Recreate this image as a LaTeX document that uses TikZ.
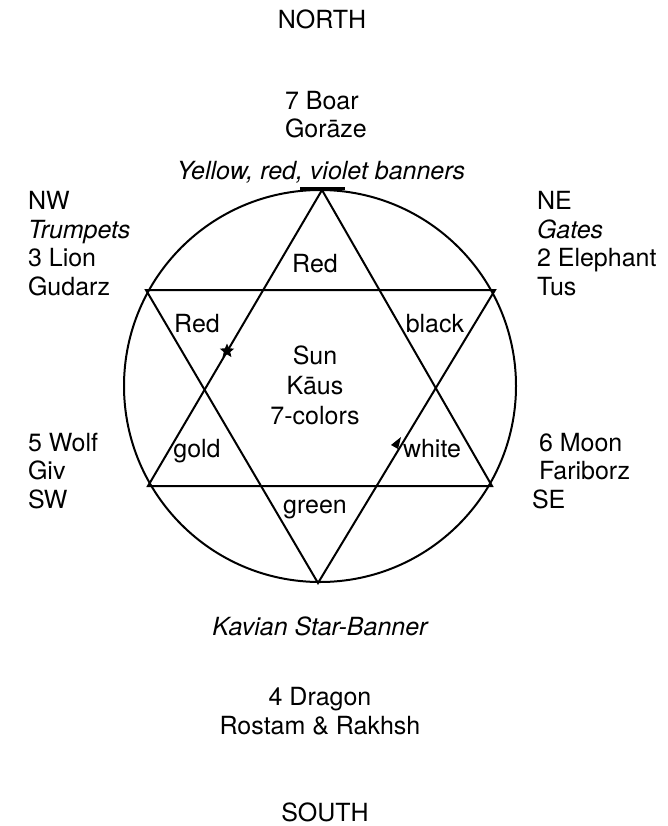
\documentclass[tikz,border=0pt]{standalone}
\usepackage{fontspec}
\setmainfont{TeX Gyre Heros}
\usetikzlibrary{shapes.geometric}

\begin{document}
\begin{tikzpicture}[x=1pt, y=-1pt, line width=2,
  txt/.style={font=\fontsize{25}{28.5}\selectfont, inner sep=0pt},
  blk/.style={txt, align=left, anchor=base west},
  slant/.style={txt, font=\fontsize{25}{28.5}\selectfont\itshape, anchor=base},
  starmark/.style={star, star points=5, star point ratio=2.2, fill, draw=none, minimum size=15pt, inner sep=0pt}]
\useasboundingbox (0,0) rectangle (668,826);
% -- circle and the two triangles --
\coordinate (c) at (320,386);
\coordinate (t1) at (322,190);
\coordinate (t2) at (148,486);
\coordinate (t3) at (492,486);
\coordinate (b1) at (318,583);
\coordinate (b2) at (146,290);
\coordinate (b3) at (495,290);
\draw (c) circle (196);
\draw (t1) to (t2) to (t3) to cycle;
\draw (b1) to (b2) to (b3) to cycle;
\draw[line width=3] (300,189) to (345,189);
% -- small marks on the lines --
\node[starmark] (m1) at (227,351) {};
\fill (401,437) -- (398,449) -- (391,445) -- cycle;
% -- compass points --
\node[txt, anchor=base] (north) at (322,29) {NORTH};
\node[txt, anchor=base] (south) at (325,821) {SOUTH};
\node[blk] (boar) at (284,138) {7 Boar\\Gor\={a}ze};
\node[slant] (yellow) at (321,180) {Yellow, red, violet banners};
\node[blk] (nw) at (27,295) {NW\\\textit{Trumpets}\\3 Lion\\Gudarz};
\node[blk] (ne) at (536,295) {NE\\\textit{Gates}\\2 Elephant\\Tus};
\node[blk] (sw) at (27,508) {5 Wolf\\Giv\\SW};
\node[blk] (se) at (538,508) {6 Moon\\Fariborz\\\hspace*{-7pt}SE};
\node[slant] (kavian) at (320,635) {Kavian Star-Banner};
\node[txt, align=center, anchor=base] (dragon) at (320,734) {4 Dragon\\Rostam \& Rakhsh};
% -- colours in the star --
\node[txt, anchor=base] (top) at (315,272) {Red};
\node[txt, anchor=base] (ul) at (197,332) {Red};
\node[txt, anchor=base] (ur) at (435,332) {black};
\node[txt, anchor=base] (ll) at (197,457) {gold};
\node[txt, anchor=base] (lr) at (432,457) {white};
\node[txt, anchor=base] (bot) at (315,513) {green};
\node[txt, align=center, anchor=base, font=\fontsize{25}{30}\selectfont] (sun) at (315,424) {Sun\\K\={a}us\\7-colors};
\end{tikzpicture}
\end{document}
